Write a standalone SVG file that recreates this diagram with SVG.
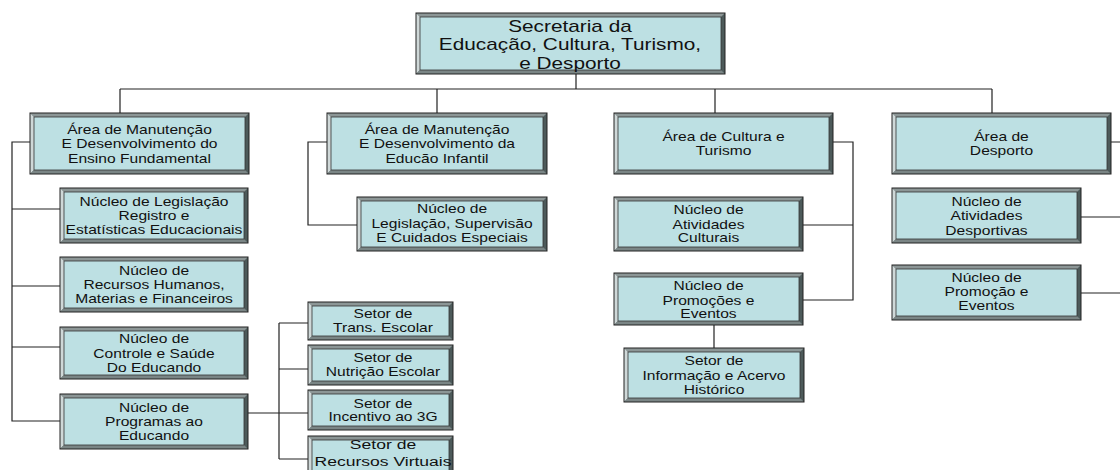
<svg xmlns="http://www.w3.org/2000/svg" width="1120" height="470" viewBox="0 0 1120 470">
<style>
.base{fill:#4d5a5a}
.bt{fill:#8c9696}
.bl{fill:#cfd8d8}
.bb{fill:#7a8585}
.in{fill:#bde0e3;stroke:#333;stroke-width:0.8}
.out{fill:none;stroke:#222;stroke-width:1}
.t{font-family:"Liberation Sans",Arial,sans-serif;font-size:12px;fill:#111;text-anchor:middle}
.tb{font-size:16px}
.ts{font-size:13.5px}
.c{fill:none;stroke:#222;stroke-width:1.2}
</style>
<rect width="1120" height="470" fill="#ffffff"/>
<g id="connectors">
<path class="c" d="M576,74V89M120,89H992M120,89V113M437,89V113M715,89V113M992,89V113"/>
<path class="c" d="M30,142H12V421H60M12,209H60M12,286H60M12,347H60"/>
<path class="c" d="M327,142H308V225H357"/>
<path class="c" d="M248,413H308M279,323V459M279,323H308M279,369H308M279,459H308"/>
<path class="c" d="M833,142H853V300H803M853,225H803"/>
<path class="c" d="M714,325V348"/>
<path class="c" d="M1111,142H1120M1081,217H1120M1081,293H1120"/>
</g>
<g id="top">
<rect class="base" x="416" y="13" width="309" height="61"/>
<polygon class="bt" points="416,13 725,13 721,17 420,17"/>
<polygon class="bl" points="416,13 420,17 420,70 416,74"/>
<polygon class="bb" points="416,74 420,70 721,70 725,74"/>
<rect class="in" x="420" y="17" width="301" height="53"/>
<rect class="out" x="416" y="13" width="309" height="61"/>
<text class="t tb" transform="translate(570 0) scale(1.3 1)"><tspan x="0" y="32">Secretaria da</tspan><tspan x="0" y="50.5">Educação, Cultura, Turismo,</tspan><tspan x="0" y="69">e Desporto</tspan></text>
</g>
<g id="a1">
<rect class="base" x="30" y="113" width="219" height="61"/>
<polygon class="bt" points="30,113 249,113 245,117 34,117"/>
<polygon class="bl" points="30,113 34,117 34,170 30,174"/>
<polygon class="bb" points="30,174 34,170 245,170 249,174"/>
<rect class="in" x="34" y="117" width="211" height="53"/>
<rect class="out" x="30" y="113" width="219" height="61"/>
<text class="t" transform="translate(139.5 0) scale(1.3 1)"><tspan x="0" y="134">Área de Manutenção</tspan><tspan x="0" y="148.5">E Desenvolvimento do</tspan><tspan x="0" y="163">Ensino Fundamental</tspan></text>
</g>
<g id="a2">
<rect class="base" x="327" y="113" width="220" height="61"/>
<polygon class="bt" points="327,113 547,113 543,117 331,117"/>
<polygon class="bl" points="327,113 331,117 331,170 327,174"/>
<polygon class="bb" points="327,174 331,170 543,170 547,174"/>
<rect class="in" x="331" y="117" width="212" height="53"/>
<rect class="out" x="327" y="113" width="220" height="61"/>
<text class="t" transform="translate(437 0) scale(1.3 1)"><tspan x="0" y="134">Área de Manutenção</tspan><tspan x="0" y="148.5">E Desenvolvimento da</tspan><tspan x="0" y="163">Educão Infantil</tspan></text>
</g>
<g id="a3">
<rect class="base" x="614" y="113" width="219" height="61"/>
<polygon class="bt" points="614,113 833,113 829,117 618,117"/>
<polygon class="bl" points="614,113 618,117 618,170 614,174"/>
<polygon class="bb" points="614,174 618,170 829,170 833,174"/>
<rect class="in" x="618" y="117" width="211" height="53"/>
<rect class="out" x="614" y="113" width="219" height="61"/>
<text class="t" transform="translate(723.5 0) scale(1.3 1)"><tspan x="0" y="141.5">Área de Cultura e</tspan><tspan x="0" y="155.5">Turismo</tspan></text>
</g>
<g id="a4">
<rect class="base" x="892" y="113" width="219" height="61"/>
<polygon class="bt" points="892,113 1111,113 1107,117 896,117"/>
<polygon class="bl" points="892,113 896,117 896,170 892,174"/>
<polygon class="bb" points="892,174 896,170 1107,170 1111,174"/>
<rect class="in" x="896" y="117" width="211" height="53"/>
<rect class="out" x="892" y="113" width="219" height="61"/>
<text class="t" transform="translate(1001.5 0) scale(1.3 1)"><tspan x="0" y="141.5">Área de</tspan><tspan x="0" y="155.5">Desporto</tspan></text>
</g>
<g id="n1">
<rect class="base" x="60" y="188" width="188" height="55"/>
<polygon class="bt" points="60,188 248,188 244,192 64,192"/>
<polygon class="bl" points="60,188 64,192 64,239 60,243"/>
<polygon class="bb" points="60,243 64,239 244,239 248,243"/>
<rect class="in" x="64" y="192" width="180" height="47"/>
<rect class="out" x="60" y="188" width="188" height="55"/>
<text class="t" transform="translate(154 0) scale(1.3 1)"><tspan x="0" y="206">Núcleo de Legislação</tspan><tspan x="0" y="220">Registro e</tspan><tspan x="0" y="234">Estatísticas Educacionais</tspan></text>
</g>
<g id="n2">
<rect class="base" x="60" y="257" width="188" height="55"/>
<polygon class="bt" points="60,257 248,257 244,261 64,261"/>
<polygon class="bl" points="60,257 64,261 64,308 60,312"/>
<polygon class="bb" points="60,312 64,308 244,308 248,312"/>
<rect class="in" x="64" y="261" width="180" height="47"/>
<rect class="out" x="60" y="257" width="188" height="55"/>
<text class="t" transform="translate(154 0) scale(1.3 1)"><tspan x="0" y="275">Núcleo de</tspan><tspan x="0" y="289.5">Recursos Humanos,</tspan><tspan x="0" y="303.5">Materias e Financeiros</tspan></text>
</g>
<g id="n3">
<rect class="base" x="60" y="327" width="188" height="52"/>
<polygon class="bt" points="60,327 248,327 244,331 64,331"/>
<polygon class="bl" points="60,327 64,331 64,375 60,379"/>
<polygon class="bb" points="60,379 64,375 244,375 248,379"/>
<rect class="in" x="64" y="331" width="180" height="44"/>
<rect class="out" x="60" y="327" width="188" height="52"/>
<text class="t" transform="translate(154 0) scale(1.3 1)"><tspan x="0" y="343.5">Núcleo de</tspan><tspan x="0" y="358">Controle e Saúde</tspan><tspan x="0" y="372.5">Do Educando</tspan></text>
</g>
<g id="n4">
<rect class="base" x="60" y="394" width="188" height="55"/>
<polygon class="bt" points="60,394 248,394 244,398 64,398"/>
<polygon class="bl" points="60,394 64,398 64,445 60,449"/>
<polygon class="bb" points="60,449 64,445 244,445 248,449"/>
<rect class="in" x="64" y="398" width="180" height="47"/>
<rect class="out" x="60" y="394" width="188" height="55"/>
<text class="t" transform="translate(154 0) scale(1.3 1)"><tspan x="0" y="412.5">Núcleo de</tspan><tspan x="0" y="426.5">Programas ao</tspan><tspan x="0" y="440.5">Educando</tspan></text>
</g>
<g id="n5">
<rect class="base" x="357" y="197" width="190" height="54"/>
<polygon class="bt" points="357,197 547,197 543,201 361,201"/>
<polygon class="bl" points="357,197 361,201 361,247 357,251"/>
<polygon class="bb" points="357,251 361,247 543,247 547,251"/>
<rect class="in" x="361" y="201" width="182" height="46"/>
<rect class="out" x="357" y="197" width="190" height="54"/>
<text class="t" transform="translate(452 0) scale(1.3 1)"><tspan x="0" y="213.5">Núcleo de</tspan><tspan x="0" y="228">Legislação, Supervisão</tspan><tspan x="0" y="242">E Cuidados Especiais</tspan></text>
</g>
<g id="s1">
<rect class="base" x="308" y="302" width="145" height="38"/>
<polygon class="bt" points="308,302 453,302 449,306 312,306"/>
<polygon class="bl" points="308,302 312,306 312,336 308,340"/>
<polygon class="bb" points="308,340 312,336 449,336 453,340"/>
<rect class="in" x="312" y="306" width="137" height="30"/>
<rect class="out" x="308" y="302" width="145" height="38"/>
<text class="t" transform="translate(383 0) scale(1.3 1)"><tspan x="0" y="318.5">Setor de</tspan><tspan x="0" y="332">Trans. Escolar</tspan></text>
</g>
<g id="s2">
<rect class="base" x="308" y="345" width="145" height="40"/>
<polygon class="bt" points="308,345 453,345 449,349 312,349"/>
<polygon class="bl" points="308,345 312,349 312,381 308,385"/>
<polygon class="bb" points="308,385 312,381 449,381 453,385"/>
<rect class="in" x="312" y="349" width="137" height="32"/>
<rect class="out" x="308" y="345" width="145" height="40"/>
<text class="t" transform="translate(383 0) scale(1.3 1)"><tspan x="0" y="362.5">Setor de</tspan><tspan x="0" y="376">Nutrição Escolar</tspan></text>
</g>
<g id="s3">
<rect class="base" x="308" y="390" width="145" height="40"/>
<polygon class="bt" points="308,390 453,390 449,394 312,394"/>
<polygon class="bl" points="308,390 312,394 312,426 308,430"/>
<polygon class="bb" points="308,430 312,426 449,426 453,430"/>
<rect class="in" x="312" y="394" width="137" height="32"/>
<rect class="out" x="308" y="390" width="145" height="40"/>
<text class="t" transform="translate(383 0) scale(1.3 1)"><tspan x="0" y="408">Setor de</tspan><tspan x="0" y="421.5">Incentivo ao 3G</tspan></text>
</g>
<g id="s4">
<rect class="base" x="308" y="436" width="145" height="44"/>
<polygon class="bt" points="308,436 453,436 449,440 312,440"/>
<polygon class="bl" points="308,436 312,440 312,476 308,480"/>
<polygon class="bb" points="308,480 312,476 449,476 453,480"/>
<rect class="in" x="312" y="440" width="137" height="36"/>
<rect class="out" x="308" y="436" width="145" height="44"/>
<text class="t ts" transform="translate(383 0) scale(1.3 1)"><tspan x="0" y="449">Setor de</tspan><tspan x="0" y="466">Recursos Virtuais</tspan></text>
</g>
<g id="c1">
<rect class="base" x="614" y="197" width="189" height="54"/>
<polygon class="bt" points="614,197 803,197 799,201 618,201"/>
<polygon class="bl" points="614,197 618,201 618,247 614,251"/>
<polygon class="bb" points="614,251 618,247 799,247 803,251"/>
<rect class="in" x="618" y="201" width="181" height="46"/>
<rect class="out" x="614" y="197" width="189" height="54"/>
<text class="t" transform="translate(708.5 0) scale(1.3 1)"><tspan x="0" y="214.5">Núcleo de</tspan><tspan x="0" y="229">Atividades</tspan><tspan x="0" y="242.5">Culturais</tspan></text>
</g>
<g id="c2">
<rect class="base" x="614" y="273" width="189" height="52"/>
<polygon class="bt" points="614,273 803,273 799,277 618,277"/>
<polygon class="bl" points="614,273 618,277 618,321 614,325"/>
<polygon class="bb" points="614,325 618,321 799,321 803,325"/>
<rect class="in" x="618" y="277" width="181" height="44"/>
<rect class="out" x="614" y="273" width="189" height="52"/>
<text class="t" transform="translate(708.5 0) scale(1.3 1)"><tspan x="0" y="290">Núcleo de</tspan><tspan x="0" y="305">Promoções e</tspan><tspan x="0" y="318.5">Eventos</tspan></text>
</g>
<g id="c3">
<rect class="base" x="624" y="348" width="180" height="54"/>
<polygon class="bt" points="624,348 804,348 800,352 628,352"/>
<polygon class="bl" points="624,348 628,352 628,398 624,402"/>
<polygon class="bb" points="624,402 628,398 800,398 804,402"/>
<rect class="in" x="628" y="352" width="172" height="46"/>
<rect class="out" x="624" y="348" width="180" height="54"/>
<text class="t" transform="translate(714 0) scale(1.3 1)"><tspan x="0" y="365">Setor de</tspan><tspan x="0" y="380">Informação e Acervo</tspan><tspan x="0" y="394">Histórico</tspan></text>
</g>
<g id="d1">
<rect class="base" x="892" y="188" width="189" height="55"/>
<polygon class="bt" points="892,188 1081,188 1077,192 896,192"/>
<polygon class="bl" points="892,188 896,192 896,239 892,243"/>
<polygon class="bb" points="892,243 896,239 1077,239 1081,243"/>
<rect class="in" x="896" y="192" width="181" height="47"/>
<rect class="out" x="892" y="188" width="189" height="55"/>
<text class="t" transform="translate(986.5 0) scale(1.3 1)"><tspan x="0" y="206">Núcleo de</tspan><tspan x="0" y="220.5">Atividades</tspan><tspan x="0" y="235">Desportivas</tspan></text>
</g>
<g id="d2">
<rect class="base" x="892" y="265" width="189" height="55"/>
<polygon class="bt" points="892,265 1081,265 1077,269 896,269"/>
<polygon class="bl" points="892,265 896,269 896,316 892,320"/>
<polygon class="bb" points="892,320 896,316 1077,316 1081,320"/>
<rect class="in" x="896" y="269" width="181" height="47"/>
<rect class="out" x="892" y="265" width="189" height="55"/>
<text class="t" transform="translate(986.5 0) scale(1.3 1)"><tspan x="0" y="282.5">Núcleo de</tspan><tspan x="0" y="296.5">Promoção e</tspan><tspan x="0" y="310.5">Eventos</tspan></text>
</g>
</svg>
